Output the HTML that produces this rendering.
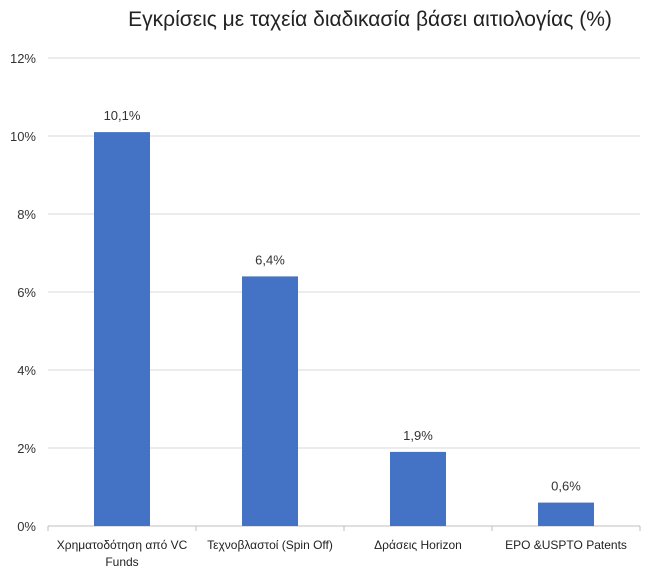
<!DOCTYPE html>
<html><head><meta charset="utf-8"><style>
html,body{margin:0;padding:0;background:#fff;width:649px;height:572px;overflow:hidden}
svg text{font-family:"Liberation Sans","DejaVu Sans",sans-serif}
</style></head><body>
<svg id="chart" width="649" height="572" xmlns="http://www.w3.org/2000/svg">
<text x="370" y="26" font-size="21" text-anchor="middle" fill="#222">Εγκρίσεις με ταχεία διαδικασία βάσει αιτιολογίας (%)</text>
<g id="grid"></g><g id="bars"></g><g id="labels"></g>
</svg>
<script>
const categories = [["Χρηματοδότηση από VC","Funds"],["Τεχνοβλαστοί (Spin Off)"],["Δράσεις Horizon"],["EPO &USPTO Patents"]];
const values = [10.1, 6.4, 1.9, 0.6];
const valueLabels = ["10,1%","6,4%","1,9%","0,6%"];
const ticks = [0,2,4,6,8,10,12];
const tickLabels = ["0%","2%","4%","6%","8%","10%","12%"];
const NS="http://www.w3.org/2000/svg";
const L=48,R=640,Y0=526,Y12=58;
const y=v=>Y0-(v/12)*(Y0-Y12);
const bw=(R-L)/categories.length;
const x=i=>L+bw*i;
function mk(t,a,p){const e=document.createElementNS(NS,t);for(const k in a)e.setAttribute(k,a[k]);p.appendChild(e);return e;}
const g=document.getElementById('grid'),b=document.getElementById('bars'),lb=document.getElementById('labels');
ticks.forEach((t,i)=>{
 const ln=mk('line',{x1:L,x2:R,y1:y(t),y2:y(t),stroke:i===0?'#bfbfbf':'#d9d9d9','stroke-width':1},g);
 
 
 const tx=mk('text',{x:36,y:y(t)+5,'font-size':13,'text-anchor':'end',fill:'#333'},g);
 tx.textContent=tickLabels[i];
 
 
});
for(let i=0;i<=categories.length;i++){
 const tk=mk('line',{x1:x(i),x2:x(i),y1:Y0,y2:Y0+5,stroke:'#bfbfbf'},g);
 
 
}
values.forEach((v,i)=>{
 const cx=x(i)+bw/2,w=56;
 const r=mk('rect',{x:cx-w/2,y:y(v),width:w,height:Y0-y(v),fill:'#4472c4'},b);
 
 
 const t=mk('text',{x:cx,y:y(v)-12,'font-size':13,'text-anchor':'middle',fill:'#333'},lb);
 t.textContent=valueLabels[i];
 
 
 categories[i].forEach((line,j)=>{
  const c=mk('text',{x:cx,y:549+j*17,'font-size':12,'text-anchor':'middle',fill:'#222'},lb);
  c.textContent=line;
  
  
 });
});
</script>
</body></html>
